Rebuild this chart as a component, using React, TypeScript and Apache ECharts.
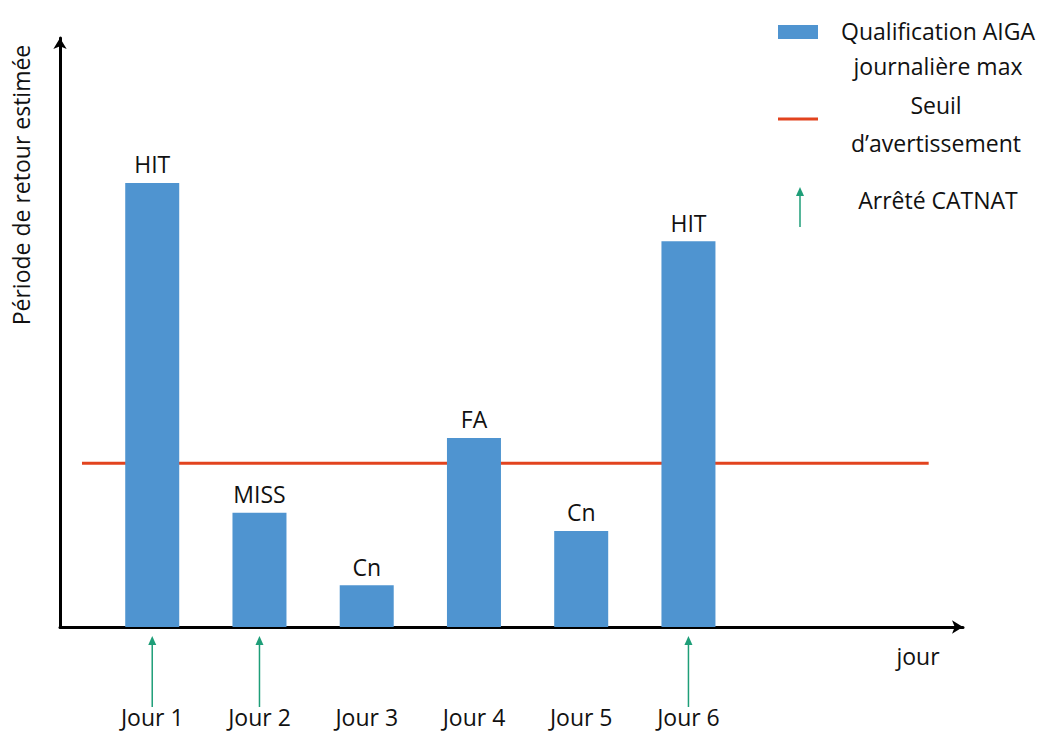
import React, { useEffect, useRef } from "react";
import * as echarts from "echarts";

const days = [1, 2, 3, 4, 5, 6];
const dayLabels = ["Jour 1", "Jour 2", "Jour 3", "Jour 4", "Jour 5", "Jour 6"];
const aigaValues = [75.4, 19.4, 7.1, 32.1, 16.3, 65.5];
const qualifications = ["HIT", "MISS", "Cn", "FA", "Cn", "HIT"];
const thresholdValue = 27.8;
const thresholdSpan = [0.345, 8.24];
const catnatDays = [1, 2, 6];

const BAR_COLOR = "#4F94D0";
const LINE_COLOR = "#E2431E";
const ARROW_COLOR = "#1E9E78";
const TEXT_COLOR = "#111111";
const FONT = "'Open Sans', 'Noto Sans', sans-serif";
const FS = 23;

export default function App() {
  const ref = useRef<HTMLDivElement>(null);

  useEffect(() => {
    document.body.style.margin = "0";
    if (!ref.current) return;
    const chart = echarts.init(ref.current, null, { renderer: "svg" });

    const option: any = {
      animation: false,
      backgroundColor: "#ffffff",
      textStyle: { fontFamily: FONT },
      grid: { left: 60, right: 85, top: 38, bottom: 104, containLabel: false },
      xAxis: {
        type: "value",
        min: 0.14,
        max: 8.56,
        axisLine: {
          show: true,
          lineStyle: { color: "#000", width: 3 },
          symbol: ["none", "arrow"],
          symbolSize: [10, 11],
        },
        axisTick: { show: false },
        splitLine: { show: false },
        axisLabel: {
          show: true,
          customValues: days,
          formatter: (v: number) => dayLabels[days.indexOf(Math.round(v))] ?? "",
          margin: 78,
          fontSize: FS,
          color: TEXT_COLOR,
          fontFamily: FONT,
        },
      },
      yAxis: {
        type: "value",
        min: 0,
        max: 100,
        axisLine: {
          show: true,
          lineStyle: { color: "#000", width: 3 },
          symbol: ["none", "arrow"],
          symbolSize: [10, 11],
        },
        axisTick: { show: false },
        axisLabel: { show: false },
        splitLine: { show: false },
      },
      series: [
        {
          type: "line",
          z: 1,
          symbol: "none",
          silent: true,
          lineStyle: { color: LINE_COLOR, width: 3 },
          data: thresholdSpan.map((x) => [x, thresholdValue]),
        },
        {
          type: "bar",
          z: 3,
          barWidth: 54,
          itemStyle: { color: BAR_COLOR },
          label: {
            show: true,
            position: "top",
            distance: 7,
            fontSize: FS,
            color: TEXT_COLOR,
            fontFamily: FONT,
            formatter: (p: any) => qualifications[p.dataIndex],
          },
          data: days.map((d, i) => [d, aigaValues[i]]),
        },
        {
          type: "custom",
          z: 4,
          silent: true,
          clip: false,
          data: catnatDays.map((d) => [d, 0]),
          renderItem: (params: any, api: any) => {
            const p = api.coord([api.value(0), 0]);
            const x = p[0];
            const y = p[1];
            return {
              type: "group",
              children: [
                {
                  type: "line",
                  shape: { x1: x, y1: y + 80, x2: x, y2: y + 16 },
                  style: { stroke: ARROW_COLOR, lineWidth: 1.5 },
                },
                {
                  type: "polygon",
                  shape: { points: [[x, y + 9], [x - 4, y + 18], [x + 4, y + 18]] },
                  style: { fill: ARROW_COLOR },
                },
              ],
            };
          },
        },
      ],
      graphic: [
        {
          type: "text",
          x: 21,
          y: 185,
          rotation: Math.PI / 2,
          style: {
            text: "Période de retour estimée",
            fontSize: FS,
            fontFamily: FONT,
            fill: TEXT_COLOR,
            align: "center",
            verticalAlign: "middle",
          },
        },
        {
          type: "text",
          x: 918,
          y: 656,
          style: {
            text: "jour",
            fontSize: FS,
            fontFamily: FONT,
            fill: TEXT_COLOR,
            align: "center",
            verticalAlign: "middle",
          },
        },
        {
          type: "rect",
          shape: { x: 778, y: 25, width: 40, height: 14 },
          style: { fill: BAR_COLOR },
        },
        {
          type: "text",
          x: 938,
          y: 48,
          style: {
            text: "Qualification AIGA\njournalière max",
            fontSize: FS,
            lineHeight: 35,
            fontFamily: FONT,
            fill: TEXT_COLOR,
            align: "center",
            verticalAlign: "middle",
          },
        },
        {
          type: "line",
          shape: { x1: 778, y1: 119, x2: 818, y2: 119 },
          style: { stroke: LINE_COLOR, lineWidth: 3 },
        },
        {
          type: "text",
          x: 936,
          y: 124,
          style: {
            text: "Seuil\nd\u2019avertissement",
            fontSize: FS,
            lineHeight: 38,
            fontFamily: FONT,
            fill: TEXT_COLOR,
            align: "center",
            verticalAlign: "middle",
          },
        },
        {
          type: "line",
          shape: { x1: 800, y1: 227, x2: 800, y2: 194 },
          style: { stroke: ARROW_COLOR, lineWidth: 1.5 },
        },
        {
          type: "polygon",
          shape: { points: [[800, 187], [796, 196], [804, 196]] },
          style: { fill: ARROW_COLOR },
        },
        {
          type: "text",
          x: 938,
          y: 200,
          style: {
            text: "Arrêté CATNAT",
            fontSize: FS,
            fontFamily: FONT,
            fill: TEXT_COLOR,
            align: "center",
            verticalAlign: "middle",
          },
        },
      ],
    };

    chart.setOption(option);
    return () => chart.dispose();
  }, []);

  return <div ref={ref} style={{ width: 1048, height: 731 }} />;
}
